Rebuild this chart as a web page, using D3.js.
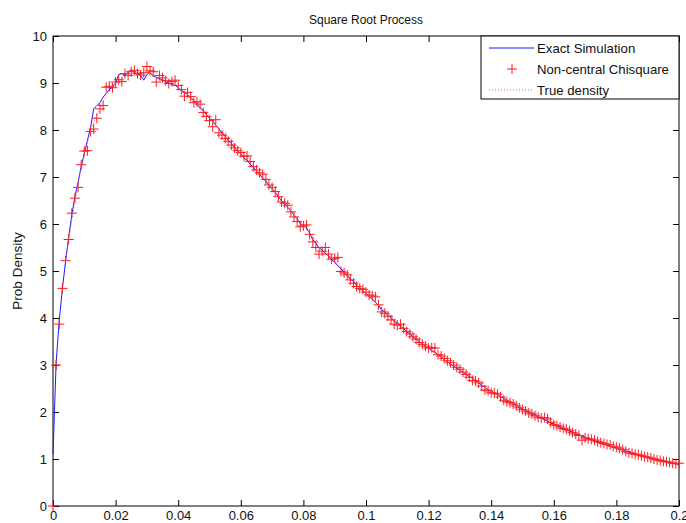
<!DOCTYPE html>
<html>
<head>
<meta charset="utf-8">
<script src="https://cdn.jsdelivr.net/npm/d3@7"></script>
<style>
	body { margin: 0; background: #fff; }
	text { font-family: "Liberation Sans", Arial, sans-serif; fill: #111; }
</style>
</head>
<body>
<svg id="chart" width="686" height="523"></svg>
<script>
const MARGIN_LEFT = 53;
const MARGIN_TOP = 36;
const PLOT_W = 626;
const PLOT_H = 470;
const TICK_LEN = 6;
const PLUS_SIZE = 5;

// x grid of the histogram: bin k sits at k * BIN_STEP
const BIN_STEP = 0.001;
// true density sampled every 0.004, starting at 0.004
const DENS_START = 0.004, DENS_STEP = 0.004;

var xTicks = [0, 0.02, 0.04, 0.06, 0.08, 0.1, 0.12, 0.14, 0.16, 0.18, 0.2];
var xTickLabels = ["0", "0.02", "0.04", "0.06", "0.08", "0.1", "0.12", "0.14", "0.16", "0.18", "0.2"];
var yTicks = [0, 1, 2, 3, 4, 5, 6, 7, 8, 9, 10];
var seriesNames = ["Exact Simulation", "Non-central Chisquare", "True density"];

// Exact Simulation (blue line), one value per bin
var exactSim = [
	1.10, 3.05, 3.95, 4.62, 5.20, 5.72, 6.18, 6.58, 6.88, 7.22,
	7.50, 7.78, 8.05, 8.45, 8.52, 8.58, 8.70, 8.78, 8.86, 8.92,
	9.00, 9.18, 9.20, 9.17, 9.22, 9.28, 9.22, 9.20, 9.16, 9.06,
	9.18, 9.22, 9.15, 9.12, 9.09, 9.07, 9.02, 9.00, 8.96, 8.95,
	8.90, 8.84, 8.80, 8.75, 8.67, 8.63, 8.55, 8.47, 8.41, 8.33,
	8.25, 8.19, 8.10, 8.03, 7.93, 7.87, 7.78, 7.71, 7.62, 7.55,
	7.49, 7.40, 7.36, 7.27, 7.21, 7.12, 7.06, 6.97, 6.91, 6.82,
	6.75, 6.67, 6.58, 6.49, 6.44, 6.35, 6.28, 6.18, 6.11, 6.01,
	5.97, 5.92, 5.80, 5.67, 5.59, 5.49, 5.45, 5.37, 5.33, 5.24,
	5.19, 5.11, 5.05, 4.96, 4.91, 4.82, 4.78, 4.69, 4.65, 4.57,
	4.53, 4.45, 4.41, 4.33, 4.27, 4.17, 4.13, 4.05, 4.01, 3.93,
	3.89, 3.82, 3.78, 3.70, 3.67, 3.59, 3.56, 3.49, 3.46, 3.39,
	3.36, 3.30, 3.28, 3.21, 3.18, 3.11, 3.08, 3.01, 2.99, 2.93,
	2.90, 2.84, 2.81, 2.75, 2.72, 2.66, 2.63, 2.56, 2.53, 2.46,
	2.45, 2.40, 2.38, 2.32, 2.30, 2.24, 2.22, 2.16, 2.15, 2.09,
	2.07, 2.02, 2.00, 1.95, 1.94, 1.89, 1.88, 1.83, 1.81, 1.76,
	1.75, 1.70, 1.69, 1.64, 1.63, 1.59, 1.58, 1.53, 1.52, 1.48,
	1.47, 1.43, 1.42, 1.38, 1.37, 1.33, 1.33, 1.29, 1.28, 1.24,
	1.24, 1.20, 1.20, 1.16, 1.16, 1.12, 1.12, 1.08, 1.08, 1.05,
	1.05, 1.01, 1.01, 0.98, 0.98, 0.95, 0.95, 0.92, 0.92, 0.89,
	0.89
];

// Non-central Chisquare (red + markers), one value per bin
var chiSquare = [
	0.00, 3.00, 3.87, 4.63, 5.22, 5.67, 6.23, 6.55, 6.78, 7.26,
	7.55, 7.56, 7.97, 8.02, 8.25, 8.45, 8.52, 8.91, 8.93, 8.90,
	9.02, 9.07, 9.03, 9.20, 9.16, 9.24, 9.27, 9.20, 9.17, 9.22,
	9.35, 9.26, 9.24, 9.02, 9.16, 9.11, 9.05, 8.99, 9.03, 9.06,
	8.95, 8.86, 8.72, 8.80, 8.71, 8.58, 8.60, 8.55, 8.37, 8.29,
	8.20, 8.07, 8.22, 7.94, 7.89, 7.82, 7.76, 7.68, 7.62, 7.56,
	7.52, 7.44, 7.45, 7.33, 7.22, 7.15, 7.09, 7.06, 6.95, 6.83,
	6.78, 6.69, 6.58, 6.47, 6.44, 6.40, 6.26, 6.15, 6.05, 5.94,
	5.96, 5.98, 5.78, 5.62, 5.50, 5.36, 5.42, 5.50, 5.36, 5.25,
	5.27, 5.29, 4.99, 4.96, 4.92, 4.81, 4.74, 4.67, 4.63, 4.61,
	4.55, 4.49, 4.47, 4.45, 4.28, 4.13, 4.10, 4.04, 3.96, 3.87,
	3.85, 3.87, 3.78, 3.71, 3.66, 3.60, 3.55, 3.48, 3.44, 3.40,
	3.36, 3.37, 3.36, 3.22, 3.19, 3.14, 3.09, 3.05, 3.00, 2.95,
	2.91, 2.85, 2.80, 2.74, 2.67, 2.66, 2.62, 2.55, 2.47, 2.45,
	2.41, 2.40, 2.38, 2.32, 2.25, 2.22, 2.20, 2.17, 2.13, 2.09,
	2.05, 2.02, 1.98, 1.96, 1.92, 1.89, 1.87, 1.88, 1.85, 1.78,
	1.73, 1.71, 1.68, 1.65, 1.63, 1.60, 1.56, 1.53, 1.50, 1.40,
	1.45, 1.43, 1.42, 1.40, 1.37, 1.35, 1.33, 1.31, 1.30, 1.27,
	1.25, 1.23, 1.20, 1.16, 1.13, 1.12, 1.10, 1.09, 1.07, 1.05,
	1.04, 1.02, 1.00, 0.98, 0.97, 0.95, 0.94, 0.93, 0.91, 0.90,
	0.91
];

// True density (dotted), every 0.004 from 0.004 to 0.2
var trueDensity = [
	5.20, 6.85, 7.95, 8.60, 8.98, 9.17, 9.22, 9.18, 9.06, 8.90,
	8.70, 8.45, 8.17, 7.88, 7.56, 7.24, 6.92, 6.60, 6.28, 5.97,
	5.66, 5.36, 5.07, 4.79, 4.53, 4.28, 4.04, 3.81, 3.59, 3.35,
	3.16, 2.98, 2.81, 2.63, 2.44, 2.30, 2.16, 2.03, 1.91, 1.76,
	1.64, 1.53, 1.43, 1.34, 1.25, 1.17, 1.09, 1.02, 0.96, 0.90
];

var svg = d3.select("#chart");

var xScale = d3.scaleLinear().domain([0, 0.2]).range([MARGIN_LEFT, MARGIN_LEFT + PLOT_W]),
	yScale = d3.scaleLinear().domain([0, 10]).range([MARGIN_TOP + PLOT_H, MARGIN_TOP]);

// axes, ticks point inward like matlab
var xAxis = d3.axisBottom(xScale).tickValues(xTicks)
	.tickFormat(function(d, i) { return xTickLabels[i]; })
	.tickSizeInner(-TICK_LEN).tickSizeOuter(0).tickPadding(5);
var yAxis = d3.axisLeft(yScale).tickValues(yTicks)
	.tickSizeInner(-TICK_LEN).tickSizeOuter(0).tickPadding(6);

svg.append("g")
	.attr("class", "x axis")
	.attr("transform", "translate(0," + (MARGIN_TOP + PLOT_H) + ")")
	.call(xAxis);
svg.append("g")
	.attr("class", "y axis")
	.attr("transform", "translate(" + MARGIN_LEFT + ",0)")
	.call(yAxis);
// top and right ticks, no labels
svg.append("g")
	.attr("transform", "translate(0," + MARGIN_TOP + ")")
	.call(d3.axisTop(xScale).tickValues(xTicks).tickSizeInner(-TICK_LEN).tickSizeOuter(0).tickFormat(""));
svg.append("g")
	.attr("transform", "translate(" + (MARGIN_LEFT + PLOT_W) + ",0)")
	.call(d3.axisRight(yScale).tickValues(yTicks).tickSizeInner(-TICK_LEN).tickSizeOuter(0).tickFormat(""));

svg.selectAll(".axis text")
	.attr("font-size", "13px")
	.attr("font-family", "Liberation Sans, Arial, sans-serif")
	.attr("fill", "#111");
svg.selectAll(".domain").remove();
svg.selectAll(".tick line").attr("stroke", "#000");

// box
svg.append("rect")
	.attr("x", MARGIN_LEFT)
	.attr("y", MARGIN_TOP)
	.attr("width", PLOT_W)
	.attr("height", PLOT_H)
	.attr("fill", "none")
	.attr("stroke", "#000")
	.attr("stroke-width", 1);

// exact simulation line
var simLine = d3.line()
	.x(function(d, i) { return xScale(i * BIN_STEP); })
	.y(function(d) { return yScale(d); });
svg.append("path")
	.datum(exactSim)
	.attr("d", simLine)
	.attr("fill", "none")
	.attr("stroke", "#1a1aff")
	.attr("stroke-width", 1);

// chisquare markers
svg.selectAll(".plus")
	.data(chiSquare)
  .enter().append("path")
	.attr("class", "plus")
	.attr("transform", function(d, i) { return "translate(" + xScale(i * BIN_STEP) + "," + yScale(d) + ")"; })
	.attr("d", "M" + (-PLUS_SIZE) + ",0H" + PLUS_SIZE + "M0," + (-PLUS_SIZE) + "V" + PLUS_SIZE)
	.attr("stroke", "#ff1a1a")
	.attr("stroke-width", 1)
	.attr("fill", "none");

// true density, dotted
var densLine = d3.line()
	.x(function(d, i) { return xScale(DENS_START + i * DENS_STEP); })
	.y(function(d) { return yScale(d); })
	.curve(d3.curveMonotoneX);
svg.append("path")
	.datum(trueDensity)
	.attr("d", densLine)
	.attr("fill", "none")
	.attr("stroke", "#e060a0")
	.attr("stroke-width", 1)
	.attr("stroke-dasharray", "1,2");

// title and y label
svg.append("text")
	.attr("x", MARGIN_LEFT + PLOT_W / 2)
	.attr("y", 24)
	.attr("text-anchor", "middle")
	.attr("font-size", "12px")
	.text("Square Root Process");
svg.append("text")
	.attr("transform", "translate(22," + (MARGIN_TOP + PLOT_H / 2) + ") rotate(-90)")
	.attr("text-anchor", "middle")
	.attr("font-size", "13.5px")
	.text("Prob Density");

// legend
var legX = 481, legW = MARGIN_LEFT + PLOT_W - legX, legRows = [48, 69, 90];
var legend = svg.append("g");
legend.append("rect")
	.attr("x", legX)
	.attr("y", MARGIN_TOP)
	.attr("width", legW)
	.attr("height", 63)
	.attr("fill", "#fff")
	.attr("stroke", "#000");
legend.append("line")
	.attr("x1", 489).attr("x2", 534)
	.attr("y1", legRows[0]).attr("y2", legRows[0])
	.attr("stroke", "#1a1aff");
legend.append("path")
	.attr("transform", "translate(512," + legRows[1] + ")")
	.attr("d", "M" + (-PLUS_SIZE) + ",0H" + PLUS_SIZE + "M0," + (-PLUS_SIZE) + "V" + PLUS_SIZE)
	.attr("stroke", "#ff1a1a");
legend.append("line")
	.attr("x1", 489).attr("x2", 534)
	.attr("y1", legRows[2]).attr("y2", legRows[2])
	.attr("stroke", "#e060a0")
	.attr("stroke-dasharray", "1,2");
legend.selectAll(".legtext")
	.data(seriesNames)
  .enter().append("text")
	.attr("class", "legtext")
	.attr("x", 537)
	.attr("y", function(d, i) { return legRows[i]; })
	.attr("dy", "0.35em")
	.attr("font-size", "13.2px")
	.text(function(d) { return d; });
</script>
</body>
</html>
